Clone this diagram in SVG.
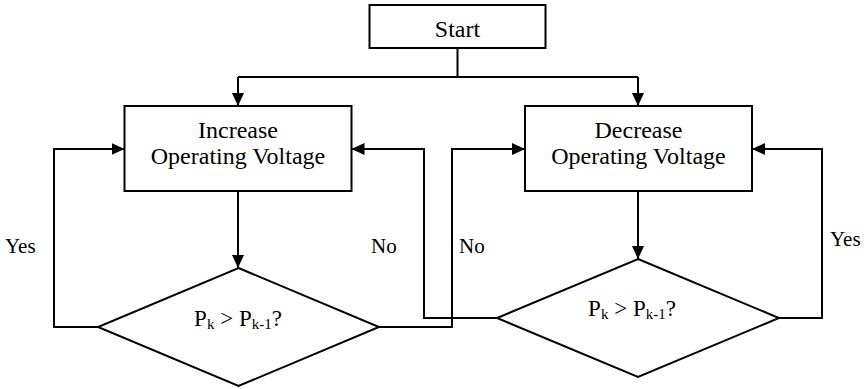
<svg xmlns="http://www.w3.org/2000/svg" width="867" height="389" viewBox="0 0 867 389">
  <style>
    .box { fill: #ffffff; stroke: #000000; stroke-width: 2; }
    .wire { fill: none; stroke: #000000; stroke-width: 2; }
    .txt { font-family: "Liberation Serif", "Times New Roman", serif; fill: #000000; }
    .node { font-size: 24px; text-anchor: middle; }
    .cond { font-size: 23px; text-anchor: middle; }
    .lbl { font-size: 21px; }
    .sub { font-size: 15px; }
  </style>
  <defs>
    <marker id="arrow" markerUnits="userSpaceOnUse" markerWidth="14" markerHeight="12" refX="13" refY="6" orient="auto">
      <path d="M0,0 L13,6 L0,12 Z" fill="#000000"/>
    </marker>
  </defs>

  <rect width="867" height="389" fill="#ffffff"/>

  <!-- connectors -->
  <g id="connectors">
    <!-- start splits to both voltage steps -->
    <polyline class="wire" points="457.5,48 457.5,77"/>
    <polyline class="wire" points="238,77 638,77"/>
    <polyline class="wire" points="238,77 238,106" marker-end="url(#arrow)"/>
    <polyline class="wire" points="638,77 638,106" marker-end="url(#arrow)"/>
    <!-- steps to decisions -->
    <polyline class="wire" points="238,191 238,268" marker-end="url(#arrow)"/>
    <polyline class="wire" points="638,191 638,259" marker-end="url(#arrow)"/>
    <!-- left decision: yes loops back, no goes to decrease -->
    <polyline class="wire" points="98,327 54,327 54,149 124.5,149" marker-end="url(#arrow)"/>
    <polyline class="wire" points="379,327 452,327 452,149 525,149" marker-end="url(#arrow)"/>
    <!-- right decision: no goes to increase, yes loops back -->
    <polyline class="wire" points="497,318 424,318 424,149 351.5,149" marker-end="url(#arrow)"/>
    <polyline class="wire" points="779,318 822,318 822,149 752,149" marker-end="url(#arrow)"/>
    <!-- branch labels -->
    <text class="txt lbl" x="5" y="253">Yes</text>
    <text class="txt lbl" x="371" y="253">No</text>
    <text class="txt lbl" x="459" y="253">No</text>
    <text class="txt lbl" x="830" y="246">Yes</text>
  </g>

  <g id="start">
    <rect class="box" x="369.5" y="5" width="176" height="43"/>
    <text class="txt node" x="457.5" y="36.5">Start</text>
  </g>

  <g id="increase">
    <rect class="box" x="124.5" y="106" width="227" height="85"/>
    <text class="txt node" x="238" y="137.5">Increase</text>
    <text class="txt node" x="238" y="164">Operating Voltage</text>
  </g>

  <g id="decrease">
    <rect class="box" x="525" y="106" width="227" height="85"/>
    <text class="txt node" x="638.5" y="137.5">Decrease</text>
    <text class="txt node" x="638.5" y="164">Operating Voltage</text>
  </g>

  <g id="check-left">
    <polygon class="box" points="238.5,268 379,327 238.5,386 98,327"/>
    <text class="txt cond" x="238" y="326">P<tspan class="sub" dy="3">k</tspan><tspan dy="-3"> &gt; P</tspan><tspan class="sub" dy="3">k-1</tspan><tspan dy="-3">?</tspan></text>
  </g>

  <g id="check-right">
    <polygon class="box" points="638,259 779,318 638,377 497,318"/>
    <text class="txt cond" x="632" y="316">P<tspan class="sub" dy="3">k</tspan><tspan dy="-3"> &gt; P</tspan><tspan class="sub" dy="3">k-1</tspan><tspan dy="-3">?</tspan></text>
  </g>
</svg>
